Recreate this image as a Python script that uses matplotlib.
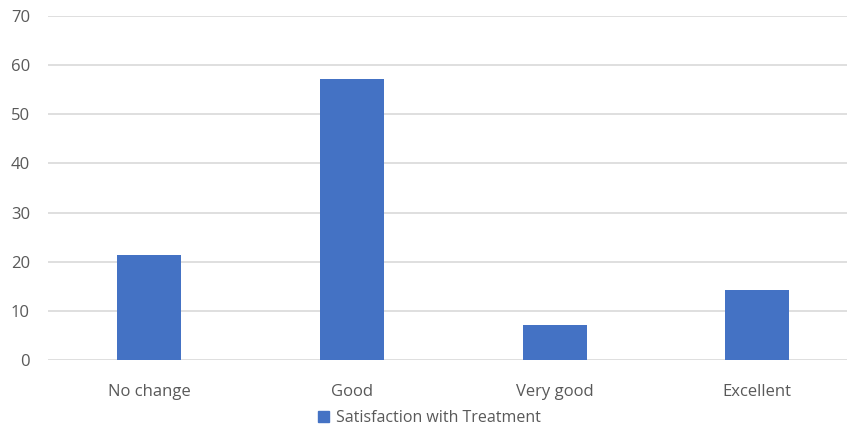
import matplotlib.pyplot as plt
from matplotlib.patches import Patch

categories = ["No change", "Good", "Very good", "Excellent"]
satisfaction = [21.43, 57.14, 7.14, 14.29]
yticks = [0, 10, 20, 30, 40, 50, 60, 70]

plt.rcParams['font.family'] = ['Open Sans', 'DejaVu Sans']
txt = "#595959"

fig = plt.figure(figsize=(8.47, 4.30), dpi=100)
ax = fig.add_axes([48 / 847, 70 / 430, 1 - 48 / 847, 344 / 430])

x = range(len(categories))
ax.bar(x, satisfaction, width=0.315, color="#4472C4", zorder=3)

ax.set_xlim(-0.5, 3.443)
ax.set_ylim(0, 70)
ax.set_yticks(yticks)
ax.set_xticks(list(x))
ax.set_xticklabels(categories)
ax.grid(axis="y", color="#d9d9d9", linewidth=1.2, zorder=0)
for s in ax.spines.values():
    s.set_visible(False)
ax.tick_params(axis="both", length=0, labelsize=12, labelcolor=txt)
ax.tick_params(axis="y", pad=13)
ax.tick_params(axis="x", pad=17)

handle = Patch(color="#4472C4", label="Satisfaction with Treatment")
fig.legend(handles=[handle], loc="center", bbox_to_anchor=(0.507, 0.028),
           frameon=False, fontsize=11.5, labelcolor=txt,
           handlelength=0.7, handleheight=0.7, handletextpad=0.4)

fig.savefig("out.png", dpi=100)
